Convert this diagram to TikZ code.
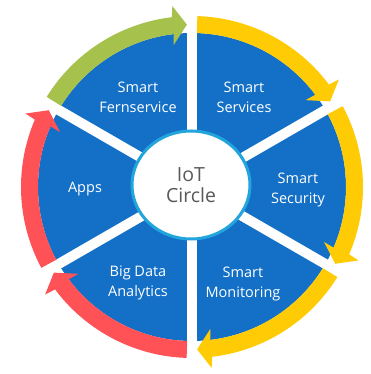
\documentclass[tikz,border=0pt]{standalone}
\usepackage{fontspec}
\setmainfont{Open Sans}
\usepackage{xcolor}
\usepackage{tikz}
\usetikzlibrary{calc}
\definecolor{segblue}{HTML}{1370C6}
\definecolor{rimcyan}{HTML}{22A4DC}
\definecolor{arrgreen}{HTML}{A6C24C}
\definecolor{arryellow}{HTML}{FFCB05}
\definecolor{arrred}{HTML}{FF5257}
\definecolor{hubgray}{HTML}{595959}
\tikzset{>=latex}
\tikzset{seglabel/.style={text=white, align=center, font=\fontsize{14.5}{20}\selectfont}}
\tikzset{hublabel/.style={text=hubgray, align=center, font=\fontsize{19.5}{21}\selectfont}}

% radii of the ring and the heads
\def\rin{154}
\def\rout{171}
\def\rmid{162.5}
\def\rhin{143}
\def\rhout{182}
% ring arrow: colour, tail angle, tip angle (clockwise)
\newcommand{\ringarrow}[3]{%
    \fill[#1] (#2:\rin) -- (#2:\rout) arc[start angle=#2, end angle=#3+5, radius=\rout]
        -- (#3+4.4:\rhout) -- (#3:\rmid) -- (#3+5.6:\rhin) -- (#3+5:\rin)
        arc[start angle=#3+5, end angle=#2, radius=\rin] -- cycle;}

\begin{document}
\begin{tikzpicture}[x=1pt, y=1pt]
    \useasboundingbox (-192,-187) rectangle (179,187);
    % Coordinates
    \coordinate (hub) at (0,0);

    % Disk
    \fill[segblue] (hub) circle (\rin);
    % Gaps
    \foreach \a in {90,30,-30,-90,-150,150}
        \draw[white, line width=10] (hub) -- (\a:\rin+2);

    % Arrows
    \ringarrow{arrgreen}{148.2}{91.8}
    \ringarrow{arryellow}{88.2}{31.8}
    \ringarrow{arryellow}{28.2}{-28.2}
    \ringarrow{arryellow}{-31.8}{-88.2}
    \ringarrow{arrred}{-91.8}{-148.2}
    \ringarrow{arrred}{-151.8}{-208.2}

    % Hub
    \draw[rimcyan, line width=3, fill=white] (-1,2) ellipse [x radius=59, y radius=54];
    \node[hublabel] (iot) at (-1,2) {IoT\\Circle};

    % Text
    \node[seglabel] (fern) at (-54,90) {Smart\\Fernservice};
    \node[seglabel] (services) at (52,90) {Smart\\Services};
    \node[seglabel] (security) at (106,-3) {Smart\\Security};
    \node[seglabel] (monitoring) at (51,-97) {Smart\\Monitoring};
    \node[seglabel] (bigdata) at (-54,-96) {Big Data\\Analytics};
    \node[seglabel] (apps) at (-107,-2) {Apps};
\end{tikzpicture}
\end{document}
